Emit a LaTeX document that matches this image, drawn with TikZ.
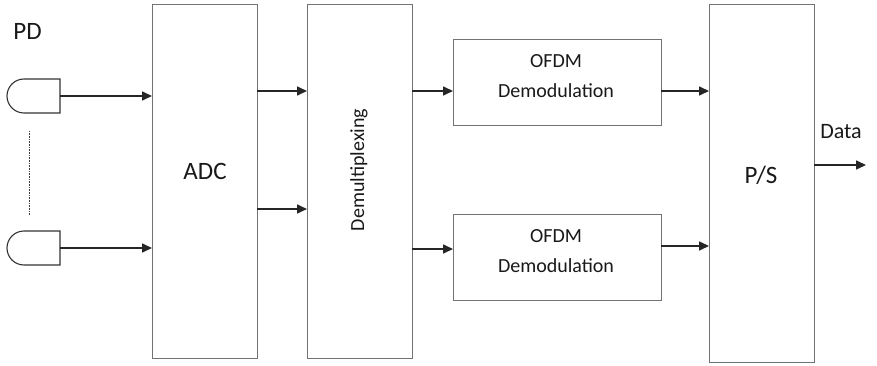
\documentclass[tikz,border=0pt]{standalone}
\usepackage{fontspec}
\setmainfont{Carlito}
\usetikzlibrary{arrows.meta}
\begin{document}
\begin{tikzpicture}[x=1pt,y=-1pt,
  blk/.style={draw=black!55,line width=1pt,fill=white},
  arr/.style={-{Triangle[length=10pt,width=9pt]},line width=1.6pt,black!85},
  pd/.style={draw=black!80,line width=1.1pt},
  big/.style={font=\fontsize{25}{30}\selectfont,text=black!90,anchor=base,inner sep=0pt},
  mid/.style={font=\fontsize{20}{24}\selectfont,text=black!90,anchor=base,inner sep=0pt}]
\useasboundingbox (0,0) rectangle (877,366);
% blocks
\draw[blk] (152,5) rectangle (257,358);
\node[big] (adc) at (205,179) {ADC};
\draw[blk] (307,5) rectangle (412,358);
\node[rotate=90,font=\fontsize{20}{24}\selectfont,text=black!90,inner sep=0pt] (dmx) at (359,170) {Demultiplexing};
\draw[blk] (453,40) rectangle (661,126);
\node[mid] (o1a) at (556,68) {OFDM};
\node[mid] (o1b) at (556,98) {Demodulation};
\draw[blk] (453,214) rectangle (661,300);
\node[mid] (o2a) at (556,242) {OFDM};
\node[mid] (o2b) at (556,272) {Demodulation};
\draw[blk] (709,5) rectangle (814,362);
\node[big] (ps) at (761,183) {P/S};
% PD
\node[big] (pdl) at (27.5,40) {PD};
\draw[pd] (60,79) -- (24,79) arc[start angle=270,end angle=90,radius=17] -- (60,113) -- cycle;
\draw[pd] (60,231) -- (24,231) arc[start angle=270,end angle=90,radius=17] -- (60,265) -- cycle;
\coordinate (p1) at (60,96);
\coordinate (p2) at (60,248);
\coordinate (d1) at (29,131);
\coordinate (d2) at (29,215);
\draw[black!75,line width=1pt,dash pattern=on 0.8pt off 0.8pt] (d1) -- (d2);
% arrows
\coordinate (a1) at (152,96);
\coordinate (a2) at (152,248);
\draw[arr] (p1) -- (a1);
\draw[arr] (p2) -- (a2);
\coordinate (b1s) at (257,91); \coordinate (b1e) at (307,91);
\coordinate (b2s) at (257,209); \coordinate (b2e) at (307,209);
\draw[arr] (b1s) -- (b1e);
\draw[arr] (b2s) -- (b2e);
\coordinate (c1s) at (412,91); \coordinate (c1e) at (453,91);
\coordinate (c2s) at (412,249); \coordinate (c2e) at (453,249);
\draw[arr] (c1s) -- (c1e);
\draw[arr] (c2s) -- (c2e);
\coordinate (e1s) at (661,91); \coordinate (e1e) at (709,91);
\coordinate (e2s) at (661,246); \coordinate (e2e) at (709,246);
\draw[arr] (e1s) -- (e1e);
\draw[arr] (e2s) -- (e2e);
\coordinate (fs) at (814,165); \coordinate (fe) at (866,165);
\draw[arr] (fs) -- (fe);
\node[font=\fontsize{22}{26}\selectfont,text=black!90,anchor=base,inner sep=0pt] (data) at (841,139) {Data};
\end{tikzpicture}
\end{document}
